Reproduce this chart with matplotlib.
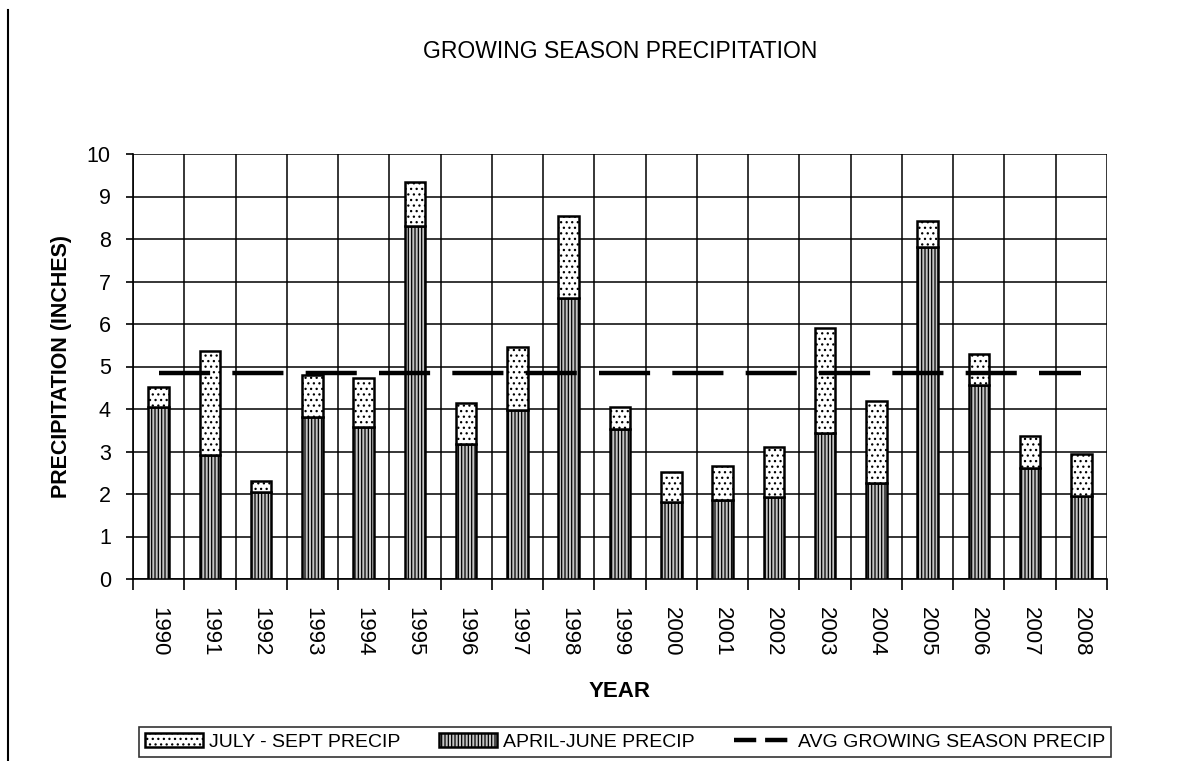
import matplotlib
matplotlib.use("Agg")
import matplotlib.pyplot as plt
from matplotlib.lines import Line2D
import numpy as np

plt.rcParams['font.family'] = ['Liberation Sans', 'DejaVu Sans']
plt.rcParams['hatch.linewidth'] = 0.9

years = ["1990", "1991", "1992", "1993", "1994", "1995", "1996", "1997", "1998", "1999",
         "2000", "2001", "2002", "2003", "2004", "2005", "2006", "2007", "2008"]
april_june = [4.04, 2.91, 2.04, 3.81, 3.57, 8.30, 3.17, 3.97, 6.61, 3.52,
              1.82, 1.86, 1.94, 3.43, 2.25, 7.82, 4.56, 2.62, 1.96]
july_sept_total = [4.52, 5.37, 2.30, 4.80, 4.72, 9.33, 4.13, 5.45, 8.54, 4.05,
                   2.51, 2.67, 3.10, 5.91, 4.18, 8.42, 5.29, 3.36, 2.93]
july_sept = [t - a for t, a in zip(july_sept_total, april_june)]
avg_growing = 4.84

fig = plt.figure(figsize=(11.85, 7.61), dpi=100)
ax = fig.add_axes([133/1185, 1 - 579/761, (1107-133)/1185, (579-154)/761])

x = np.arange(len(years))
w = 0.40
b1 = ax.bar(x, april_june, width=w, facecolor='#c4c4c4', edgecolor='black',
            linewidth=1.8, hatch='|||||', zorder=3)
b2 = ax.bar(x, july_sept, width=w, bottom=april_june, facecolor='white',
            edgecolor='black', linewidth=1.8, hatch='...', zorder=3)
ax.plot([x[0], x[-1]], [avg_growing, avg_growing], color='black', lw=3.2,
        dashes=(11.5, 5), zorder=4)

ax.set_xlim(-0.5, len(years) - 0.5)
ax.set_ylim(0, 10)
ax.set_yticks(range(0, 11))
ax.set_xticks(x)
ax.set_xticklabels(years, rotation=-90, fontsize=16)
ax.tick_params(axis='x', length=0, pad=20)
ax.set_xticks(np.arange(-0.5, len(years), 1.0), minor=True)
ax.tick_params(axis='x', which='minor', length=8, width=1.2, color='black')
ax.tick_params(axis='y', labelsize=15.5, length=5, width=1.2, pad=11)
ax.grid(True, axis='y', color='black', lw=1.1, zorder=0)
ax.grid(True, axis='x', which='minor', color='black', lw=1.1, zorder=0)
for s in ax.spines.values():
    s.set_linewidth(1.2)
ax.spines['top'].set_visible(False)
ax.spines['right'].set_visible(False)

ax.set_xlabel("YEAR", fontsize=16, fontweight='bold', labelpad=18)
ax.set_ylabel("PRECIPITATION (INCHES)", fontsize=15.5, fontweight='bold', labelpad=11)
fig.text(620/1185, 1 - 51/761, "GROWING SEASON PRECIPITATION", fontsize=16.5,
         ha='center', va='center')

handles = [b2, b1, Line2D([0], [0], color='black', lw=3.2, dashes=(5, 2))]
labels = ["JULY - SEPT PRECIP", "APRIL-JUNE PRECIP", "AVG GROWING SEASON PRECIP"]
leg = fig.legend(handles, labels, loc='center', ncol=3,
                 bbox_to_anchor=(625/1185, 1 - 742/761), fontsize=14,
                 frameon=True, fancybox=False, edgecolor='black',
                 handlelength=3.0, handletextpad=0.3, columnspacing=2.0,
                 borderpad=0.3)
leg.get_frame().set_linewidth(1.2)

fig.add_artist(Line2D([8/1185, 8/1185], [1 - 10/761, 0], color='black', lw=1.5))

fig.savefig("out.png", dpi=100)
